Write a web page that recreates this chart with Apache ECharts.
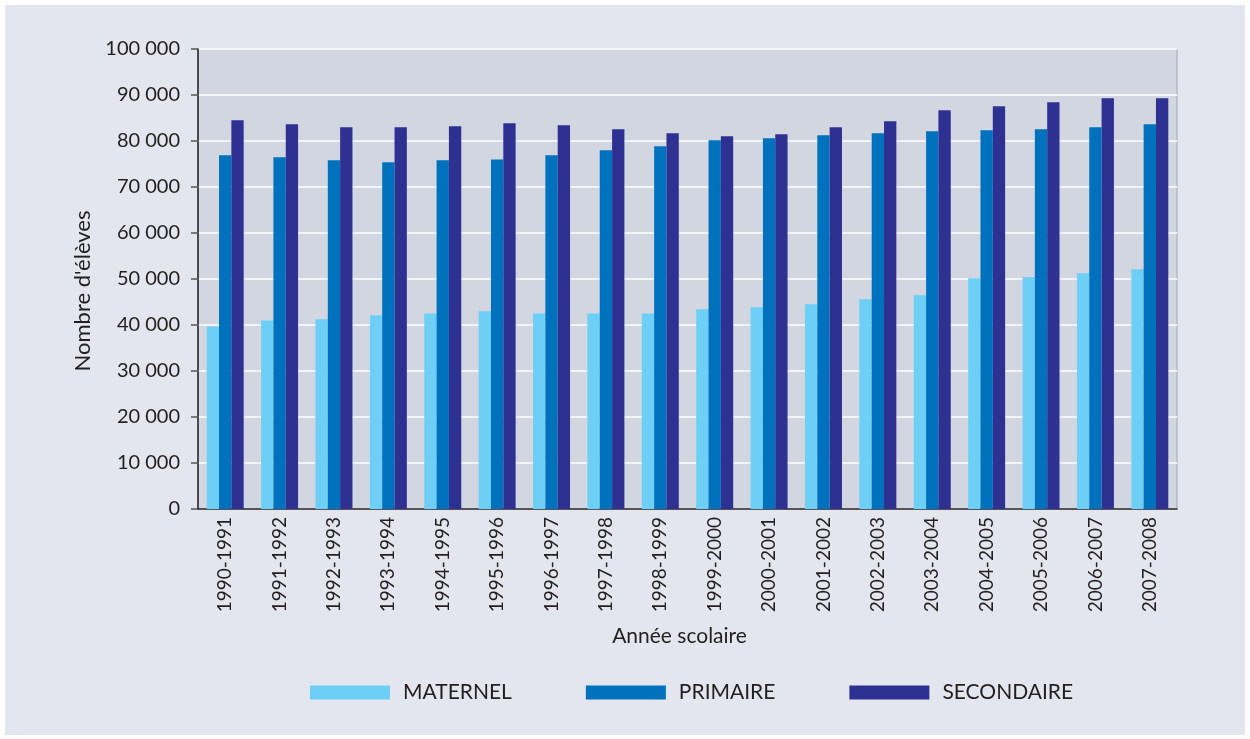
<!DOCTYPE html>
<html><head><meta charset="utf-8">
<script src="https://cdn.jsdelivr.net/npm/echarts@6/dist/echarts.min.js"></script>
<style>
html,body{margin:0;padding:0;background:#fff;}
#c{position:absolute;left:5px;top:5px;width:1240px;height:730px;background:#e3e6ee;}
</style></head><body>
<div id="c"></div>
<script>
const categories = ["1990-1991","1991-1992","1992-1993","1993-1994","1994-1995","1995-1996","1996-1997","1997-1998","1998-1999","1999-2000","2000-2001","2001-2002","2002-2003","2003-2004","2004-2005","2005-2006","2006-2007","2007-2008"];
const maternel = [39700,41000,41250,42100,42500,43000,42500,42500,42500,43400,43850,44500,45600,46450,50150,50370,51240,52110];
const primaire = [76900,76460,75800,75370,75800,76000,76900,77980,78850,80150,80590,81240,81670,82110,82330,82540,82980,83630];
const secondaire = [84500,83630,82980,82980,83200,83850,83400,82540,81670,81020,81450,82980,84280,86670,87540,88410,89280,89280];
const seriesNames = ["MATERNEL","PRIMAIRE","SECONDAIRE"];
const colors = ["#6dcff6","#0071bc","#2e3192"];

const font = "Lato, 'Open Sans', sans-serif";
const chart = echarts.init(document.getElementById('c'), null, {renderer:'canvas'});
function fmt(v){ return String(v).replace(/\B(?=(\d{3})+(?!\d))/g, ' '); }
chart.setOption({
  animation:false,
  color: colors,
  grid:{left:193, top:44, right:68, bottom:226, show:true, backgroundColor:'#d2d6e0', borderColor:'#a3a6ad', borderWidth:1},
  legend:{
    top:672, left:300, itemWidth:80, itemHeight:14, itemGap:74,
    icon:'rect',
    textStyle:{fontFamily:font, fontSize:21, color:'#231f20', padding:[0,0,0,8]},
    data: seriesNames
  },
  xAxis:{
    type:'category', data:categories,
    name:'Année scolaire', nameLocation:'middle', nameGap:117,
    nameTextStyle:{fontFamily:font, fontSize:21, color:'#231f20', padding:[0,16,0,0]},
    axisLine:{lineStyle:{color:'#231f20', width:1.5}},
    axisTick:{show:false},
    axisLabel:{rotate:90, margin:8, fontFamily:font, fontSize:19, color:'#231f20'}
  },
  yAxis:{
    type:'value', min:0, max:100000, interval:10000,
    name:"Nombre d'élèves", nameLocation:'middle', nameGap:93,
    nameTextStyle:{fontFamily:font, fontSize:22, color:'#231f20', padding:[0,24,0,0]},
    axisLine:{show:true, lineStyle:{color:'#231f20', width:1.5}},
    axisTick:{show:true, length:7, lineStyle:{color:'#555', width:1.5}},
    axisLabel:{margin:18, fontFamily:font, fontSize:20, color:'#231f20', formatter:fmt},
    splitLine:{show:true, lineStyle:{color:'#f2f3f7', width:2}}
  },
  series:[
    {name:seriesNames[0], type:'bar', data:maternel, barGap:'0%', barCategoryGap:'32%'},
    {name:seriesNames[1], type:'bar', data:primaire, barGap:'0%', barCategoryGap:'32%'},
    {name:seriesNames[2], type:'bar', data:secondaire, barGap:'0%', barCategoryGap:'32%'}
  ]
});
</script>
</body></html>
